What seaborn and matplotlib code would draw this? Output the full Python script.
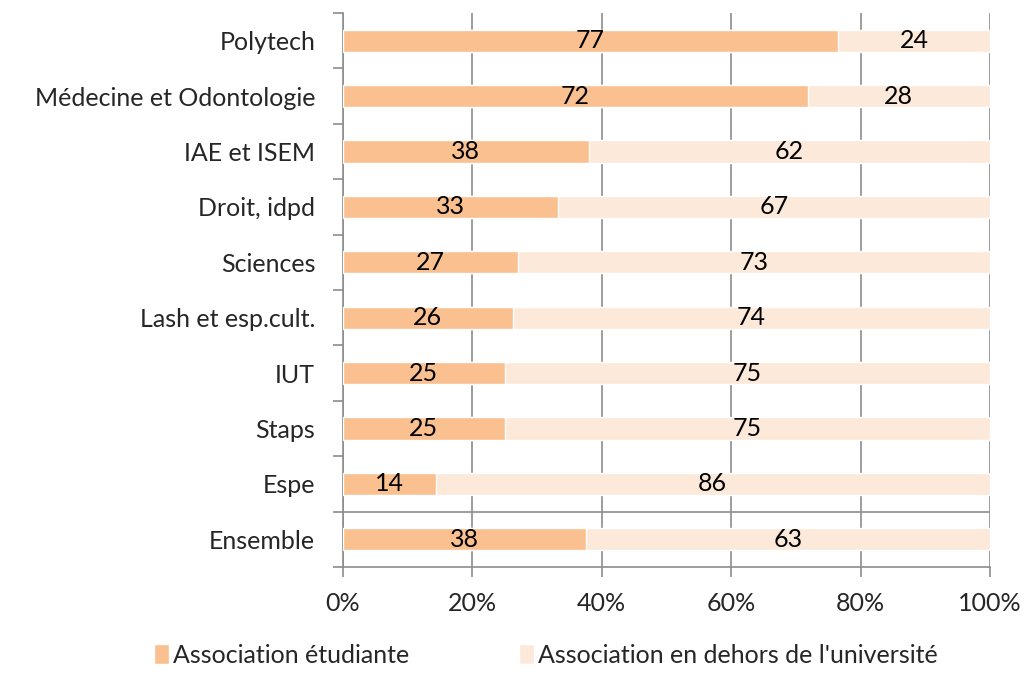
import matplotlib
matplotlib.use("Agg")
import matplotlib.pyplot as plt
import numpy as np
import pandas as pd
import seaborn as sns
from matplotlib.patches import Patch
from matplotlib.ticker import FixedLocator, PercentFormatter

categories = [
    "Polytech", "Médecine et Odontologie", "IAE et ISEM", "Droit, idpd",
    "Sciences", "Lash et esp.cult.", "IUT", "Staps", "Espe", "Ensemble",
]
etudiante = [76.5, 71.8, 38.0, 33.2, 27.0, 26.2, 25.0, 25.0, 14.3, 37.5]
hors_univ = [23.5, 28.2, 62.0, 66.8, 73.0, 73.8, 75.0, 75.0, 85.7, 62.5]
series_names = ["Association étudiante", "Association en dehors de l'université"]

ORANGE = "#FAC090"
PEACH = "#FDE9D9"
GRID = "#8C8C8C"
FS = 18

sns.set_theme(style="white")
plt.rcParams["font.family"] = ["Lato", "DejaVu Sans"]

df = pd.DataFrame({
    "cat": categories,
    "etud": etudiante,
    "total": np.array(etudiante) + np.array(hors_univ),
})

fig = plt.figure(figsize=(10.22, 6.86), dpi=100)
ax = fig.add_axes([0.3356, 0.1735, 0.6331, 0.8075])

# stacked bars: full length in peach, student share in orange on top
sns.barplot(data=df, x="total", y="cat", orient="h", color=PEACH,
            saturation=1, width=0.4, ax=ax, zorder=2)
sns.barplot(data=df, x="etud", y="cat", orient="h", color=ORANGE,
            saturation=1, width=0.4, ax=ax, zorder=3)


def half_up(v):
    return str(int(v + 0.5))


for i, (e, h) in enumerate(zip(etudiante, hors_univ)):
    ax.text(e / 2, i, half_up(e), ha="center", va="center", fontsize=FS,
            color="black", zorder=4)
    ax.text(e + h / 2, i, half_up(h), ha="center", va="center", fontsize=FS,
            color="black", zorder=4)

ax.set_xlim(0, 100)
ax.set_ylim(len(categories) - 0.5, -0.5)
ax.set_xlabel("")
ax.set_ylabel("")

ax.xaxis.set_major_locator(FixedLocator([0, 20, 40, 60, 80, 100]))
ax.xaxis.set_major_formatter(PercentFormatter(decimals=0))
ax.grid(axis="x", color=GRID, linewidth=1.2, zorder=0)
ax.set_axisbelow(True)

ax.yaxis.set_minor_locator(FixedLocator(np.arange(-0.5, len(categories), 1)))
ax.tick_params(axis="y", which="major", length=0, pad=20, labelsize=FS)
ax.tick_params(axis="y", which="minor", left=True, length=7, width=1.2,
               color=GRID)
ax.tick_params(axis="x", which="major", bottom=True, length=7, width=1.2,
               color=GRID, pad=11, labelsize=FS)

# separator between faculties and the overall row
ax.axhline(len(categories) - 1.5, color=GRID, linewidth=1.2, zorder=1)

for side in ["top", "right"]:
    ax.spines[side].set_visible(False)
for side in ["left", "bottom"]:
    ax.spines[side].set_color(GRID)
    ax.spines[side].set_linewidth(1.2)

handles = [Patch(facecolor=ORANGE, label=series_names[0]),
           Patch(facecolor=PEACH, label=series_names[1])]
fig.legend(handles=handles, loc="center", bbox_to_anchor=(0.534, 0.045),
           ncol=2, frameon=False, fontsize=FS, handlelength=0.6,
           handleheight=0.8, handletextpad=0.15, columnspacing=4.4)

fig.savefig("out.png", dpi=100)
